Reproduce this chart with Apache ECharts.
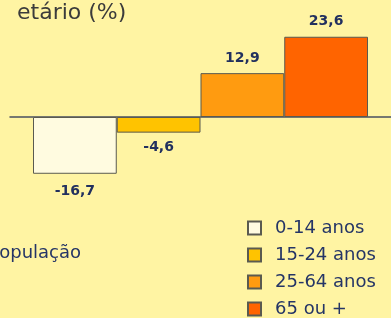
<!DOCTYPE html>
<html>
<head>
<meta charset="utf-8">
<script src="https://cdn.jsdelivr.net/npm/echarts@6/dist/echarts.min.js"></script>
<style>
    html, body { margin: 0; padding: 0; background: #fff4a3; }
    #chart { width: 391px; height: 318px; }
</style>
</head>
<body>
<div id="chart"></div>
<script>
// Age groups and their variation (%)
const groups = ['0-14 anos', '15-24 anos', '25-64 anos', '65 ou +'];
const values = [-16.7, -4.6, 12.9, 23.6];
const colors = ['#fffbe0', '#ffc300', '#ff9b10', '#ff6400'];

const chart = echarts.init(document.getElementById('chart'));

const series = groups.map((name, i) => ({
    name: name,
    type: 'bar',
    data: [values[i]],
    barWidth: 83.75,
    barGap: '0%',
    itemStyle: {
        color: colors[i],
        borderColor: '#5a5a50',
        borderWidth: 1
    },
    label: {
        show: true,
        position: values[i] >= 0 ? 'top' : 'bottom',
        distance: values[i] < -10 ? 11 : 8,
        fontFamily: 'DejaVu Sans',
        fontWeight: 'bold',
        fontSize: 14,
        color: '#22305e',
        formatter: p => p.value.toFixed(1).replace('.', ',')
    }
}));

const option = {
    backgroundColor: '#fff4a3',
    animation: false,
    title: {
        text: 'etário (%)',
        left: 12,
        top: -3,
        textStyle: {
            fontFamily: 'DejaVu Sans',
            fontSize: 22,
            fontWeight: 'normal',
            color: '#3b3b3b'
        }
    },
    legend: {
        orient: 'vertical',
        left: 242,
        top: 214,
        height: 130,
        itemWidth: 13,
        itemHeight: 13,
        itemGap: 9,
        icon: 'rect',
        textStyle: {
            fontFamily: 'DejaVu Sans',
            fontSize: 18,
            color: '#253566',
            padding: [0, 0, 0, 9]
        },
        data: groups
    },
    grid: {
        left: 10,
        right: 0,
        top: 32,
        bottom: 133
    },
    xAxis: {
        type: 'category',
        data: [''],
        axisLine: { show: true, onZero: true, lineStyle: { color: '#4a4f60', width: 1.5 } },
        axisTick: { show: false },
        axisLabel: { show: false }
    },
    yAxis: {
        type: 'value',
        min: -20,
        max: 25,
        show: false,
        splitLine: { show: false }
    },
    graphic: [{
        type: 'text',
        left: -11,
        top: 244,
        style: {
            text: 'População',
            fontFamily: 'DejaVu Sans',
            fontSize: 18,
            fill: '#253566'
        }
    }],
    series: series
};

chart.setOption(option);
</script>
</body>
</html>
